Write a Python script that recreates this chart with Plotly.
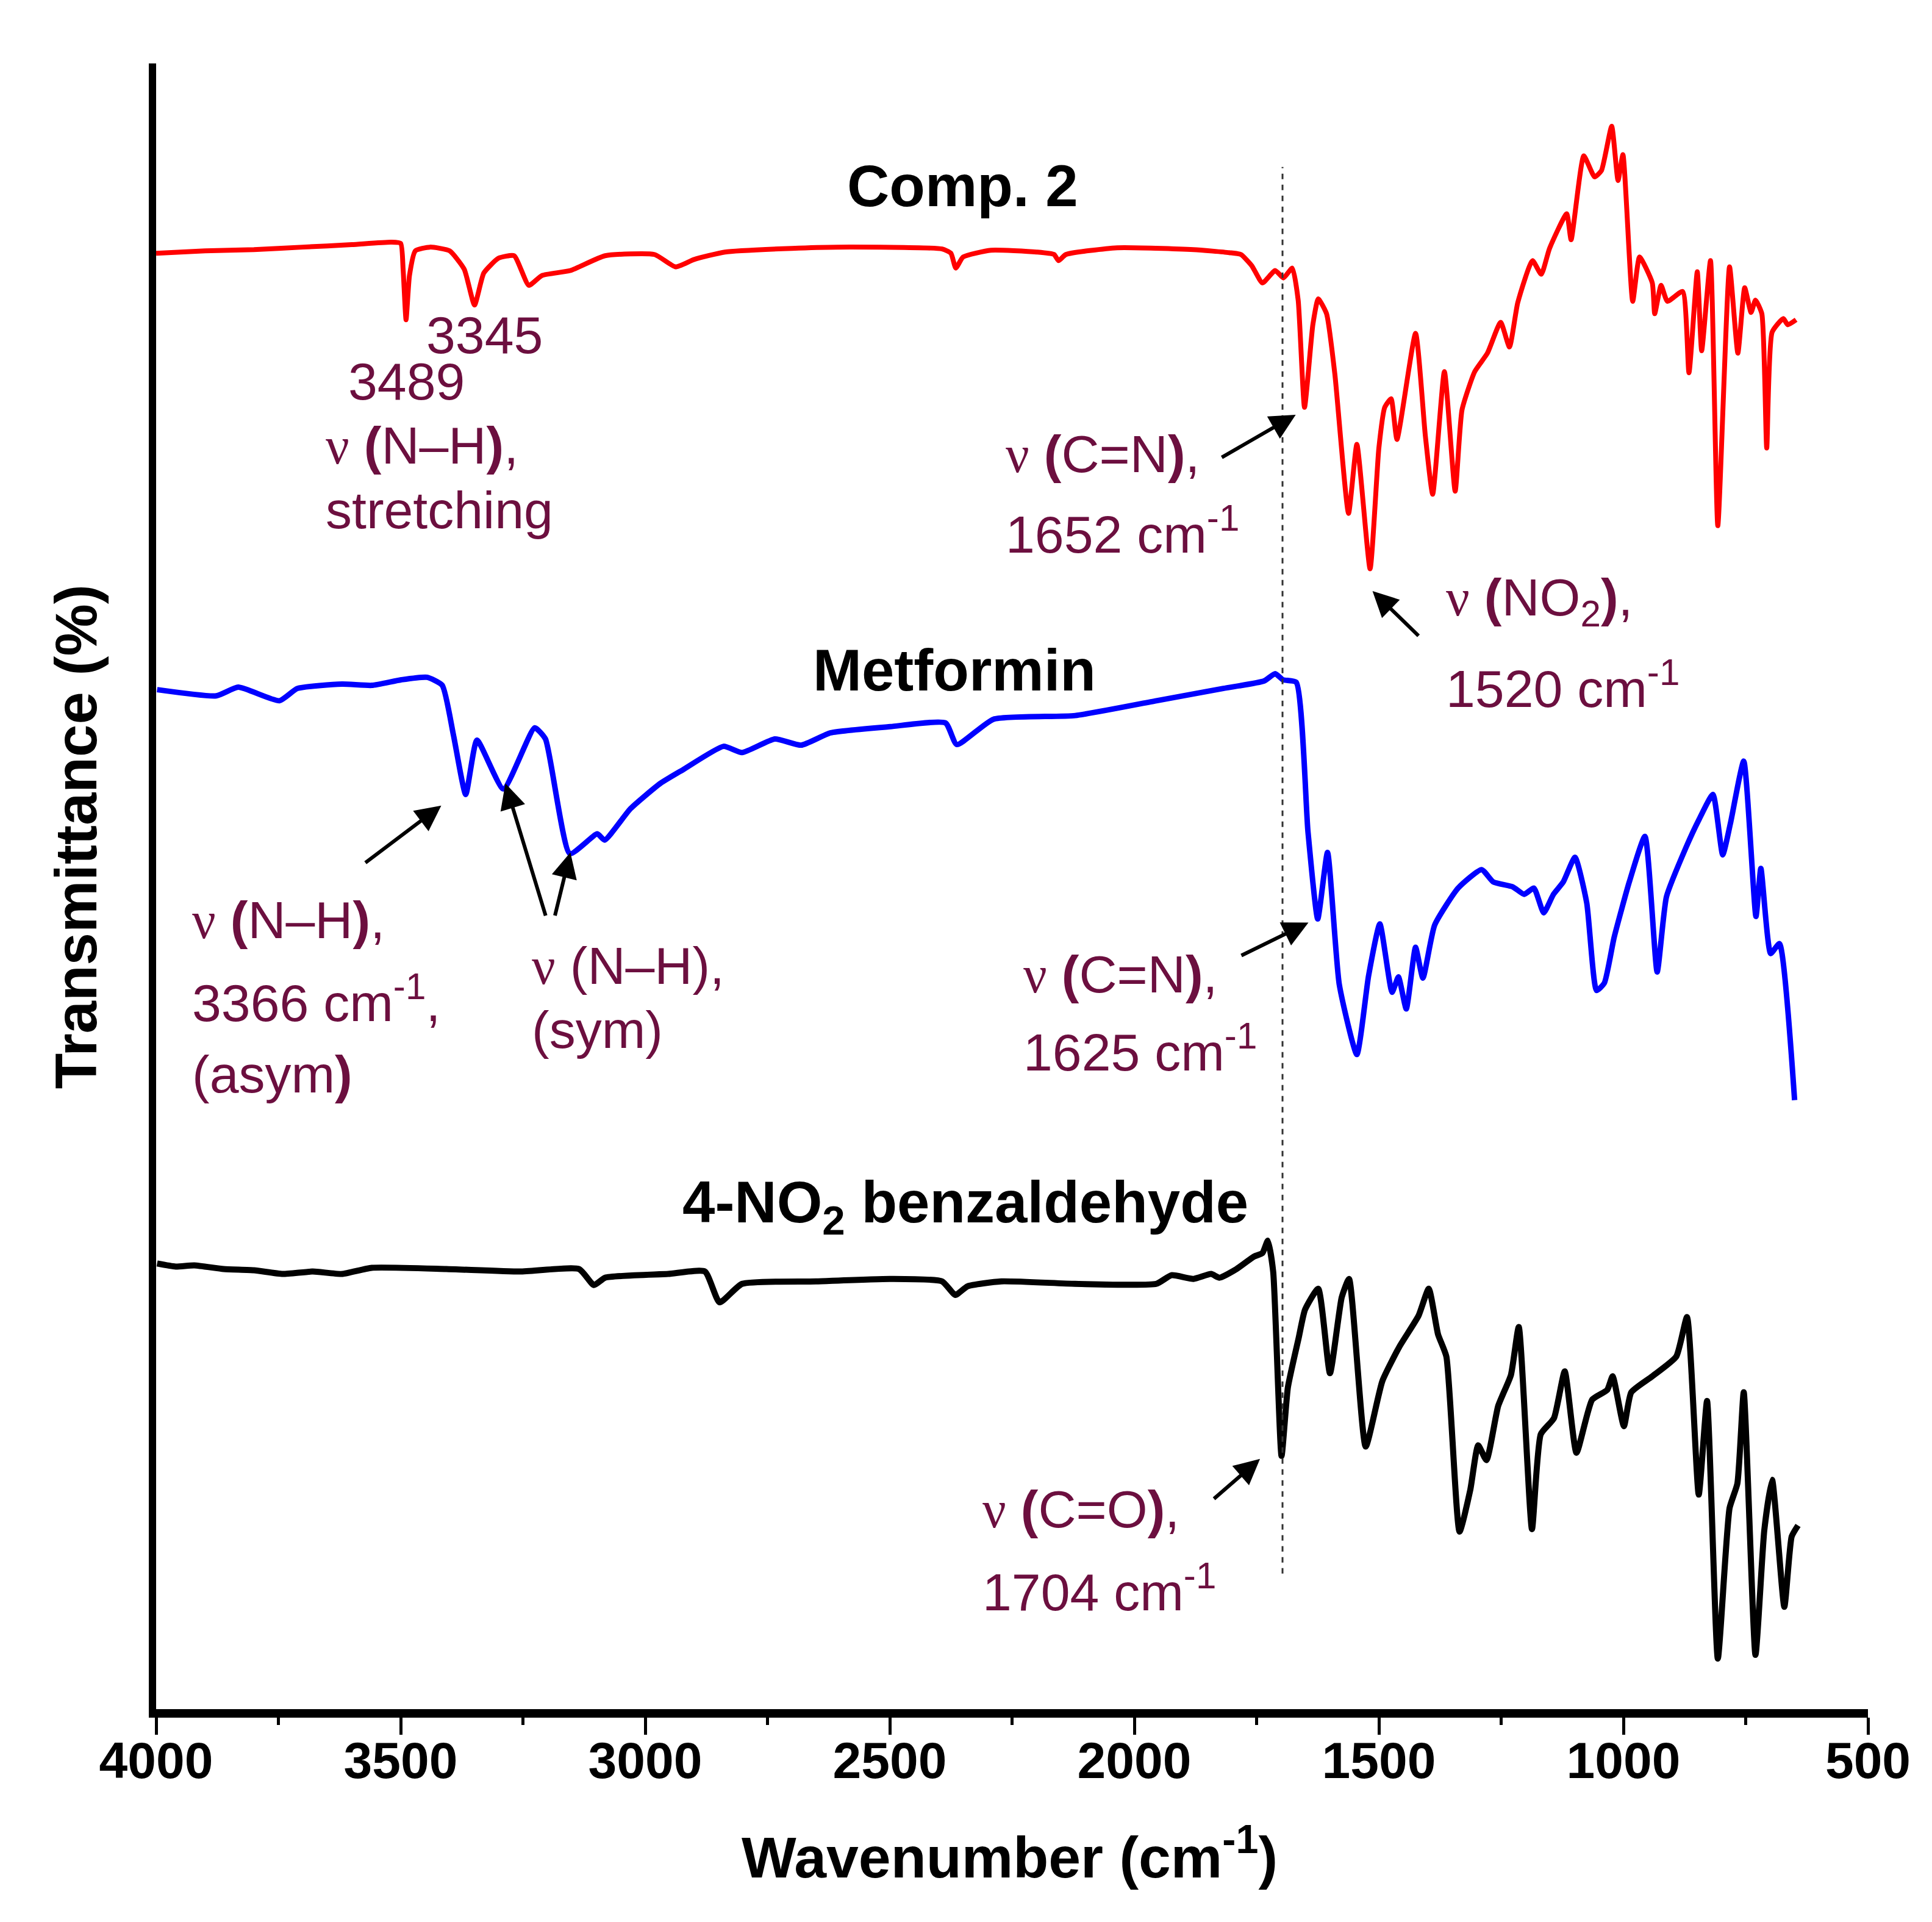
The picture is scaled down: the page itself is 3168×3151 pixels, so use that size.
import plotly.graph_objects as go

# ---------------- data (wavenumber in cm^-1, transmittance in arbitrary offset units) ----------------
comp2_wn = [4000, 3900, 3800, 3700, 3600, 3520, 3500, 3495, 3489, 3482, 3470, 3440, 3400, 3370, 3349,
            3330, 3300, 3268, 3238, 3211, 3153, 3082, 2981, 2938, 2900, 2837, 2700, 2608, 2393, 2375,
            2365, 2350, 2293, 2200, 2164, 2155, 2140, 2035, 1879, 1806, 1782, 1760, 1738, 1712, 1695,
            1677, 1665, 1652, 1635, 1624, 1607, 1590, 1562, 1545, 1518, 1500, 1488, 1475, 1463, 1425,
            1405, 1390, 1366, 1344, 1330, 1304, 1278, 1251, 1233, 1216, 1186, 1168, 1151, 1116, 1107,
            1081, 1059, 1045, 1024, 1011, 1001, 981, 967, 941, 936, 923, 910, 879, 866, 849, 840, 822,
            807, 783, 766, 752, 739, 730, 717, 707, 696, 673, 664, 647]
comp2_t = [118.1, 118.3, 118.4, 118.6, 118.8, 119.0, 118.9, 116.8, 112.7, 116.3, 118.3, 118.6, 118.3, 116.8, 113.9,
           116.5, 117.7, 117.9, 115.5, 116.3, 116.7, 117.9, 118.0, 117.0, 117.6, 118.2, 118.5, 118.6, 118.45, 118.1,
           116.9, 117.8, 118.35, 118.2, 118.0, 117.5, 118.0, 118.55, 118.4, 118.15, 118.0, 117.1, 115.7, 116.7, 116.1,
           116.9, 114.3, 105.6, 112.3, 114.4, 113.2, 108.3, 97.0, 102.6, 92.5, 102.3, 105.6, 106.3, 103.0, 111.6,
           103.3, 98.55, 108.5, 98.8, 105.4, 108.5, 110.0, 112.5, 110.5, 114.1, 117.5, 116.4, 118.5, 121.3, 119.2,
           126.0, 124.3, 124.8, 128.4, 124.0, 126.1, 114.2, 117.8, 115.7, 113.2, 115.5, 114.2, 115.0, 108.4, 116.6, 110.2, 117.5,
           96.0, 117.0, 110.0, 115.3, 113.3, 114.3, 113.2, 102.3, 111.7, 112.8, 112.3, 112.7]

metformin_wn = [3998, 3877, 3832, 3748, 3711, 3620, 3559, 3499, 3446, 3415, 3392, 3367, 3344, 3290, 3226,
                3204, 3154, 3098, 3083, 3030, 2969, 2923, 2840, 2802, 2735, 2681, 2621, 2499, 2386, 2363,
                2288, 2121, 1955, 1818, 1735, 1712, 1696, 1669, 1645, 1625, 1605, 1581, 1545, 1521, 1498,
                1473, 1460, 1444, 1425, 1410, 1386, 1338, 1290, 1266, 1226, 1203, 1183, 1163, 1143, 1123,
                1099, 1075, 1055, 1039, 1019, 988, 956, 931, 912, 872, 845, 817, 797, 781, 754, 729, 719,
                699, 681, 650]
metformin_t = [82.7, 82.2, 82.9, 81.8, 82.8, 83.15, 83.05, 83.5, 83.7, 83.05, 79.0, 74.2, 78.6, 74.65, 79.6,
               78.7, 69.4, 71.0, 70.5, 73.05, 75.1, 76.2, 78.1, 77.6, 78.7, 78.2, 79.2, 79.7, 80.0, 78.25,
               80.3, 80.6, 81.8, 82.8, 83.4, 84.0, 83.5, 83.3, 71.2, 64.1, 69.5, 58.8, 53.1, 59.5, 63.7,
               58.15, 59.4, 56.8, 61.8, 59.3, 63.6, 66.6, 68.1, 67.1, 66.7, 66.1, 66.6, 64.6, 66.1, 67.1,
               69.1, 65.4, 58.3, 58.9, 62.6, 67.1, 70.8, 59.8, 65.9, 69.9, 72.2, 74.2, 69.3, 71.9, 76.9, 64.3, 68.2,
               61.3, 62.1, 49.4]

benz_wn = [3998, 3960, 3922, 3862, 3800, 3741, 3680, 3620, 3559, 3407, 3256, 3135, 3105, 3082, 2953,
           2878, 2848, 2802, 2651, 2499, 2393, 2366, 2341, 2272, 2121, 1955, 1924, 1879, 1843, 1826,
           1791, 1756, 1738, 1727, 1716, 1699, 1686, 1664, 1651, 1624, 1600, 1576, 1561, 1527, 1493,
           1458, 1419, 1398, 1379, 1362, 1335, 1313, 1297, 1280, 1256, 1230, 1214, 1187, 1169, 1142,
           1120, 1096, 1064, 1033, 1022, 999, 984, 941, 892, 870, 846, 829, 807, 783, 767, 754, 730,
           712, 696, 671, 656, 643]
benz_t = [36.15, 35.9, 36.0, 35.7, 35.6, 35.3, 35.5, 35.3, 35.8, 35.7, 35.5, 35.7, 34.4, 35.0, 35.3,
          35.5, 33.0, 34.5, 34.7, 34.9, 34.7, 33.6, 34.3, 34.7, 34.5, 34.5, 35.2, 34.9, 35.3, 35.0,
          35.7, 36.7, 37.0, 38.0, 35.45, 20.55, 26.1, 30.1, 32.4, 34.1, 27.25, 33.4, 34.9, 21.3, 26.6,
          29.4, 31.9, 34.1, 30.4, 28.6, 14.4, 17.8, 21.4, 20.2, 24.6, 27.1, 31.0, 14.6, 22.3, 23.6,
          27.4, 20.8, 25.1, 25.9, 27.0, 22.95, 25.7, 27.0, 28.6, 31.8, 17.4, 25.0, 4.1, 16.3, 18.3, 25.7, 4.4,
          14.5, 18.6, 8.3, 14.0, 14.9]

x_ticks = [4000, 3500, 3000, 2500, 2000, 1500, 1000, 500]
marker_wn = 1697  # dashed reference line

# --------------------------------------------------------------------------------------------
MAROON = "#6c0f3f"
FONT = "Liberation Sans"
SERIF = "Liberation Serif"
NU = f"<span style='font-family:{SERIF}'>ν</span>"

fig = go.Figure()
fig.add_trace(go.Scatter(x=comp2_wn, y=comp2_t, mode="lines",
                         line=dict(color="#ff0000", width=8, shape="spline", smoothing=0.5),
                         name="Comp. 2", showlegend=False))
fig.add_trace(go.Scatter(x=metformin_wn, y=metformin_t, mode="lines",
                         line=dict(color="#0000ff", width=9, shape="spline", smoothing=0.5),
                         name="Metformin", showlegend=False))
fig.add_trace(go.Scatter(x=benz_wn, y=benz_t, mode="lines",
                         line=dict(color="#000000", width=10, shape="spline", smoothing=0.5),
                         name="4-NO2 benzaldehyde", showlegend=False))

fig.add_shape(type="line", x0=marker_wn, x1=marker_wn, y0=11.0, y1=125.1, xref="x", yref="y",
              line=dict(color="#333333", width=3, dash="dash"))

ann = []

def txt(x, y, s, size=86, color=MAROON, anchor="left", bold=False):
    ann.append(dict(x=x, y=y, xref="x", yref="y", text=s, showarrow=False, xanchor=anchor, yanchor="middle",
                    font=dict(family=FONT, size=size, color=color, weight="bold" if bold else "normal")))

def arrow(tx, ty, hx, hy):
    ann.append(dict(x=hx, y=hy, ax=tx, ay=ty, xref="x", yref="y", axref="x", ayref="y", text="",
                    showarrow=True, arrowhead=2, arrowsize=1.4, arrowwidth=6, arrowcolor="black", standoff=0))

# series labels
txt(2351, 123.6, "Comp. 2", size=96, color="black", anchor="center", bold=True)
txt(2368, 84.3, "Metformin", size=96, color="black", anchor="center", bold=True)
txt(2346, 40.8, "4-NO<sub>2</sub> benzaldehyde", size=96, color="black", anchor="center", bold=True)

# Comp. 2 annotations
txt(3329, 111.5, "3345", anchor="center")
txt(3488, 107.7, "3489", anchor="center")
txt(3656, 102.5, f"{NU} <b>(</b>N–H<b>)</b>,")
txt(3656, 97.3, "stretching")
txt(2265, 101.8, f"{NU} <b>(</b>C=N<b>)</b>,")
txt(2265, 95.6, "1652 cm<sup>-1</sup>")
arrow(1823, 101.5, 1670, 105.0)
txt(1365, 89.9, f"{NU} <b>(</b>NO<sub>2</sub><b>)</b>,")
txt(1365, 83.1, "1520 cm<sup>-1</sup>")
arrow(1417, 87.0, 1513, 90.7)

# Metformin annotations
txt(3929, 64.0, f"{NU} <b>(</b>N–H<b>)</b>,")
txt(3929, 57.6, "3366 cm<sup>-1</sup>,")
txt(3929, 51.5, "(asym<b>)</b>")
arrow(3574, 68.6, 3417, 73.3)
txt(3235, 60.3, f"{NU} (N–H),")
txt(3235, 55.1, "(sym)")
arrow(3203, 64.3, 3286, 75.1)
arrow(3185, 64.3, 3153, 69.5)
txt(2229, 59.6, f"{NU} <b>(</b>C=N<b>)</b>,")
txt(2229, 53.6, "1625 cm<sup>-1</sup>")
arrow(1783, 61.1, 1644, 63.8)

# benzaldehyde annotation
txt(2313, 16.2, f"{NU} <b>(</b>C=O<b>)</b>,")
txt(2313, 9.8, "1704 cm<sup>-1</sup>")
arrow(1839, 17.0, 1743, 20.3)

# axis titles
ann.append(dict(x=-0.047, y=0.53, xref="paper", yref="paper", text="Transmittance (%)", textangle=-90,
                showarrow=False, xanchor="center", yanchor="middle",
                font=dict(family=FONT, size=96, color="black", weight="bold")))
ann.append(dict(x=0.4985, y=-0.0875, xref="paper", yref="paper", text="Wavenumber (cm<sup>-1</sup>)",
                showarrow=False, xanchor="center", yanchor="middle",
                font=dict(family=FONT, size=95, color="black", weight="bold")))

fig.update_layout(
    width=3168, height=3151,
    margin=dict(l=248, r=113, t=96, b=357),
    paper_bgcolor="white", plot_bgcolor="white",
    annotations=ann,
    xaxis=dict(range=[4000, 500], tickvals=x_ticks, ticktext=[str(v) for v in x_ticks],
               showgrid=False, zeroline=False, showline=True, linecolor="black", linewidth=14,
               ticks="outside", ticklen=28, tickwidth=5, tickcolor="black",
               minor=dict(ticks="outside", ticklen=12, tickwidth=5, tickcolor="black", dtick=250, showgrid=False),
               ticklabelstandoff=-30,
               tickfont=dict(family=FONT, size=84, color="black", weight="bold")),
    yaxis=dict(range=[0, 133.5], showgrid=False, zeroline=False, showline=True, linecolor="black",
               linewidth=12, showticklabels=False, ticks=""),
)

fig.write_html("out.html")
